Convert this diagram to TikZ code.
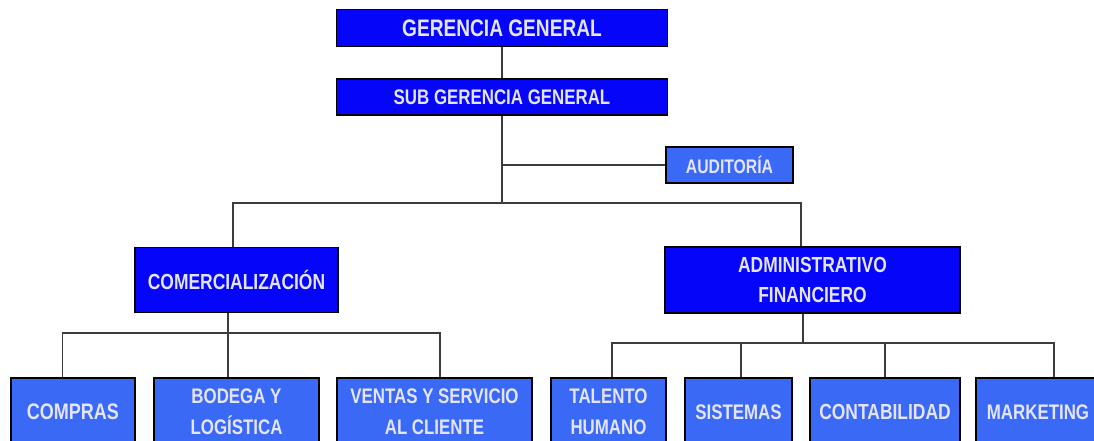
\documentclass[tikz,border=0pt]{standalone}
\usepackage{fontspec}
\newfontfamily\orgfont{Liberation Sans}[FakeStretch=0.8]
\definecolor{darkblue}{RGB}{5,5,250}
\definecolor{lightblue}{RGB}{58,106,245}
\definecolor{textlav}{RGB}{228,228,255}
\definecolor{linegray}{RGB}{60,60,60}
\begin{document}
\begin{tikzpicture}[x=0.025cm,y=-0.025cm,
    box/.style={draw=black,line width=1.3pt,text=textlav,align=center,inner sep=0pt},
    dark/.style={box,fill=darkblue},
    light/.style={box,fill=lightblue},
    boxsz/.style 2 args={minimum width=#1*0.025cm,minimum height=#2*0.025cm},
    fs/.style 2 args={font=\orgfont\bfseries\fontsize{#1}{#2}\selectfont},
    link/.style={draw=linegray,line width=1pt}]
    \useasboundingbox (0,0) rectangle (1094,441);
    \clip (0,0) rectangle (1094,441);
    \node[dark,boxsz={331}{37},fs={17}{20}] (gg) at (502,28) {GERENCIA GENERAL};
    \node[dark,boxsz={331}{36},fs={15}{18}] (sgg) at (502,97) {SUB GERENCIA GENERAL};
    \node[light,boxsz={127}{36},fs={14}{17}] (aud) at (729.5,165) {AUDITOR\'IA};
    \node[dark,boxsz={203}{65},fs={15.5}{19}] (com) at (236.5,280) {COMERCIALIZACI\'ON};
    \node[dark,boxsz={295}{66},fs={15.5}{21}] (adm) at (812.5,280) {ADMINISTRATIVO\\FINANCIERO};
    \node[light,boxsz={124}{68},fs={16}{20}] (compras) at (73,412) {COMPRAS};
    \node[light,boxsz={165}{68},fs={15}{22}] (bodega) at (236.5,412) {BODEGA Y\\LOG\'ISTICA};
    \node[light,boxsz={195}{68},fs={15}{22}] (ventas) at (434.5,412) {VENTAS Y SERVICIO\\AL CLIENTE};
    \node[light,boxsz={115}{68},fs={15}{22}] (talento) at (608.5,412) {TALENTO\\HUMANO};
    \node[light,boxsz={107}{68},fs={15}{18}] (sistemas) at (738.5,412) {SISTEMAS};
    \node[light,boxsz={150}{68},fs={15.5}{18}] (contab) at (885,412) {CONTABILIDAD};
    \node[light,boxsz={124}{68},fs={15}{18}] (marketing) at (1038,412) {MARKETING};
    \coordinate (split) at (502,203);
    \coordinate (combar) at (228,333);
    \coordinate (admbar) at (803,343);
    \draw[link] (gg) -- (sgg);
    \draw[link] (sgg) -- (split);
    \draw[link] (aud.west) -- (aud.west -| sgg.south);
    \draw[link] ([xshift=-0.09cm]com.north) |- (split) -| ([xshift=-0.29cm]adm.north);
    \draw[link] (combar) -- (combar |- com.south);
    \draw[link] (admbar) -- (admbar |- adm.south);
    \foreach \n/\s in {compras/-0.26,bodega/-0.21,ventas/0.14}
        \draw[link] ([xshift=\s cm]\n.north) |- (combar);
    \foreach \n/\s in {talento/0.09,sistemas/0.06,contab/0,marketing/0.4}
        \draw[link] ([xshift=\s cm]\n.north) |- (admbar);
\end{tikzpicture}
\end{document}
